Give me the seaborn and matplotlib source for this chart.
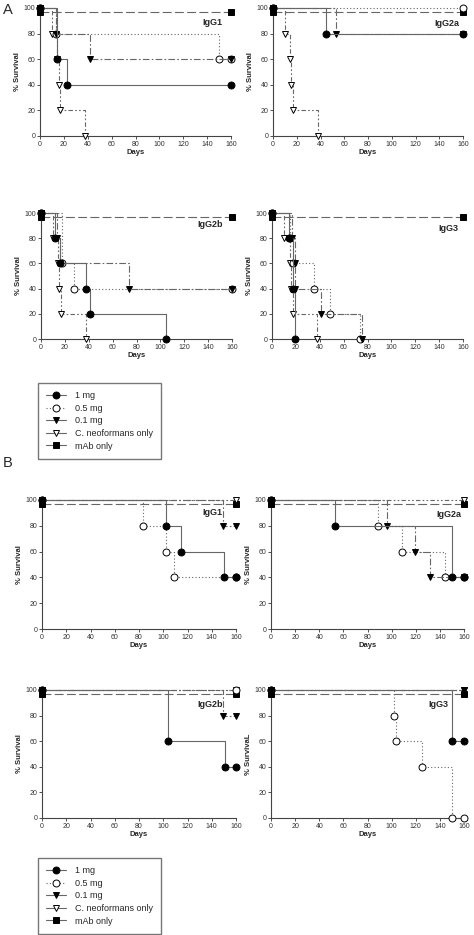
import matplotlib
matplotlib.use("Agg")
import matplotlib.pyplot as plt
from matplotlib.lines import Line2D
import seaborn as sns

GROUPS = ["1 mg", "0.5 mg", "0.1 mg", "C. neoformans only", "mAb only"]
DAY_TICKS = [0, 20, 40, 60, 80, 100, 120, 140, 160]
SURV_TICKS = [0, 20, 40, 60, 80, 100]

# (days, % survival) for each group
# Panel A
a_igg1 = {
    "1 mg": ([0, 14, 23, 160], [100, 60, 40, 40]),
    "0.5 mg": ([0, 13, 150, 160], [100, 80, 60, 60]),
    "0.1 mg": ([0, 13, 42, 160], [100, 80, 60, 60]),
    "C. neoformans only": ([0, 10, 14, 16, 17, 38], [100, 80, 60, 40, 20, 0]),
    "mAb only": ([0, 160], [97, 97]),
}
a_igg2a = {
    "1 mg": ([0, 45, 160], [100, 80, 80]),
    "0.5 mg": ([0, 160], [100, 100]),
    "0.1 mg": ([0, 53, 160], [100, 80, 80]),
    "C. neoformans only": ([0, 10, 14, 15, 17, 38], [100, 80, 60, 40, 20, 0]),
    "mAb only": ([0, 160], [97, 97]),
}
a_igg2b = {
    "1 mg": ([0, 12, 16, 38, 41, 105], [100, 80, 60, 40, 20, 0]),
    "0.5 mg": ([0, 18, 28, 160], [100, 60, 40, 40]),
    "0.1 mg": ([0, 13, 16, 74, 160], [100, 80, 60, 40, 40]),
    "C. neoformans only": ([0, 10, 14, 15, 17, 38], [100, 80, 60, 40, 20, 0]),
    "mAb only": ([0, 160], [97, 97]),
}
a_igg3 = {
    "1 mg": ([0, 14, 18, 19.5], [100, 80, 40, 0]),
    "0.5 mg": ([0, 15, 18, 35, 49, 74], [100, 80, 60, 40, 20, 0]),
    "0.1 mg": ([0, 17, 19, 19.3, 41, 75], [100, 80, 60, 40, 20, 0]),
    "C. neoformans only": ([0, 10, 15, 15.6, 17.5, 38], [100, 80, 60, 40, 20, 0]),
    "mAb only": ([0, 160], [97, 97]),
}
# Panel B
b_igg1 = {
    "1 mg": ([0, 102, 115, 150, 160], [100, 80, 60, 40, 40]),
    "0.5 mg": ([0, 83, 102, 109, 160], [100, 80, 60, 40, 40]),
    "0.1 mg": ([0, 149, 160], [100, 80, 80]),
    "C. neoformans only": ([0, 160], [100, 100]),
    "mAb only": ([0, 160], [97, 97]),
}
b_igg2a = {
    "1 mg": ([0, 53, 150, 160], [100, 80, 40, 40]),
    "0.5 mg": ([0, 89, 109, 144, 160], [100, 80, 60, 40, 40]),
    "0.1 mg": ([0, 96, 119, 132, 160], [100, 80, 60, 40, 40]),
    "C. neoformans only": ([0, 160], [100, 100]),
    "mAb only": ([0, 160], [97, 97]),
}
b_igg2b = {
    "1 mg": ([0, 104, 151, 160], [100, 60, 40, 40]),
    "0.5 mg": ([0, 160], [100, 100]),
    "0.1 mg": ([0, 149, 160], [100, 80, 80]),
    "C. neoformans only": ([0, 160], [100, 100]),
    "mAb only": ([0, 160], [97, 97]),
}
b_igg3 = {
    "1 mg": ([0, 150, 160], [100, 60, 60]),
    "0.5 mg": ([0, 102, 104, 125, 150, 160], [100, 80, 60, 40, 0, 0]),
    "0.1 mg": ([0, 160], [100, 100]),
    "C. neoformans only": ([0, 160], [100, 100]),
    "mAb only": ([0, 160], [97, 97]),
}

LINE = "#666666"
STYLE = {
    "1 mg": dict(ls="-", marker="o", mfc="black"),
    "0.5 mg": dict(ls=(0, (1, 2)), marker="o", mfc="white"),
    "0.1 mg": dict(ls=(0, (6, 2, 1.5, 2)), marker="v", mfc="black"),
    "C. neoformans only": dict(ls=(0, (4, 2, 1.5, 2, 1.5, 2)), marker="v", mfc="white"),
    "mAb only": dict(ls=(0, (8, 3)), marker="s", mfc="black"),
}

sns.set_style("ticks")
plt.rcParams["font.family"] = ["Liberation Sans", "DejaVu Sans"]

W, H = 474, 935
fig = plt.figure(figsize=(W / 100, H / 100), dpi=100)


def make_ax(x0, x1, ytop, ybot):
    return fig.add_axes([x0 / W, 1 - ybot / H, (x1 - x0) / W, (ybot - ytop) / H])


def draw(ax, panel, name, lx, ly, ylab="% Survival"):
    for g in ["mAb only", "C. neoformans only", "0.5 mg", "0.1 mg", "1 mg"]:
        t, s = panel[g]
        st = STYLE[g]
        sns.lineplot(x=t, y=s, ax=ax, estimator=None, sort=False,
                     drawstyle="steps-post", color=LINE, linewidth=0.8,
                     linestyle=st["ls"], marker=st["marker"], markersize=5,
                     markerfacecolor=st["mfc"], markeredgecolor="black",
                     markeredgewidth=0.7, clip_on=False, zorder=3)
    ax.set_xlim(0, 160)
    ax.set_ylim(0, 100)
    ax.set_xticks(DAY_TICKS)
    ax.set_yticks(SURV_TICKS)
    sns.despine(ax=ax)
    for sp in ["left", "bottom"]:
        ax.spines[sp].set_color("#444444")
        ax.spines[sp].set_linewidth(0.8)
    ax.tick_params(labelsize=5, length=2, width=0.6, pad=1.5, colors="#333333")
    ax.set_xlabel("Days", fontsize=5.5, fontweight="bold", labelpad=1)
    ax.set_ylabel(ylab, fontsize=5.5, fontweight="bold", labelpad=2)
    ax.text(lx, ly, name, transform=ax.transAxes, ha="right", va="center",
            fontsize=6.5, fontweight="bold")


draw(make_ax(40, 231, 8, 136), a_igg1, "IgG1", 0.953, 0.89)
draw(make_ax(273, 463, 8, 136), a_igg2a, "IgG2a", 0.979, 0.88)
draw(make_ax(41, 232, 213, 339), a_igg2b, "IgG2b", 0.953, 0.905)
draw(make_ax(272, 463, 213, 339), a_igg3, "IgG3", 0.974, 0.88)

draw(make_ax(42, 236, 500, 629), b_igg1, "IgG1", 0.928, 0.90)
draw(make_ax(271, 464, 500, 629), b_igg2a, "IgG2a", 0.984, 0.89)
draw(make_ax(42, 236, 690, 818), b_igg2b, "IgG2b", 0.933, 0.89)
draw(make_ax(271, 464, 690, 818), b_igg3, "IgG3", 0.917, 0.89, ylab="% SurvivaL")

fig.text(3 / W, 1 - 10 / H, "A", fontsize=10.5, va="center", ha="left")
fig.text(3 / W, 1 - 463 / H, "B", fontsize=10.5, va="center", ha="left")

handles = [Line2D([], [], color=LINE, linewidth=0.8, linestyle=STYLE[g]["ls"] if g == "0.5 mg" else "-",
                  marker=STYLE[g]["marker"], markersize=5, markerfacecolor=STYLE[g]["mfc"],
                  markeredgecolor="black", markeredgewidth=0.7) for g in GROUPS]
for top in (383, 858):
    fig.legend(handles, GROUPS, loc="upper left", bbox_to_anchor=(38 / W, 1 - top / H),
               fontsize=6.5, frameon=True, fancybox=False, edgecolor="#555555",
               handlelength=2.2, handletextpad=1.0, labelspacing=0.4,
               borderpad=0.9, borderaxespad=0)

fig.savefig("out.png", dpi=100)
